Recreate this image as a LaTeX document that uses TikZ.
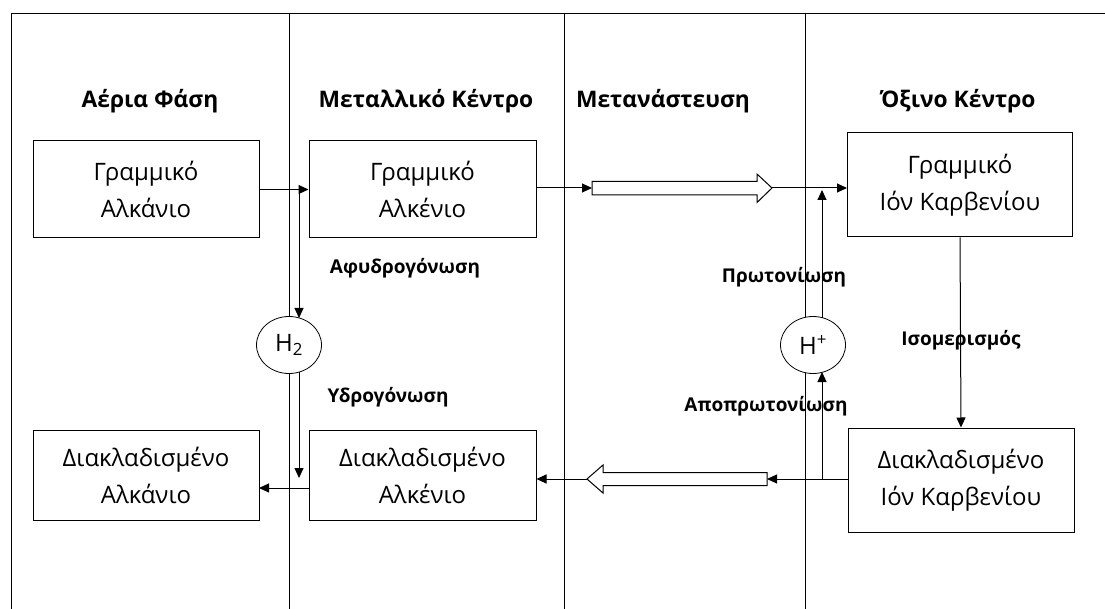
\documentclass[tikz,border=0pt]{standalone}
\usepackage{fontspec}
\setmainfont{Open Sans}
\usetikzlibrary{arrows.meta,shapes.geometric}
\tikzset{
  box/.style={draw, line width=1pt, align=center, font=\fontsize{24}{37}\selectfont, inner sep=0pt},
  hdr/.style={font=\bfseries\fontsize{22.8}{25}\selectfont},
  lbl/.style={font=\bfseries\fontsize{19}{22}\selectfont},
  ion/.style={draw, ellipse, fill=white, line width=0.8pt, minimum width=65pt, minimum height=57pt, inner sep=0pt, font=\fontsize{24}{26}\selectfont},
  frame/.style={line width=0.9pt},
  arr/.style={line width=1pt, -{Triangle[length=10pt,width=9pt]}},
  hollow/.style={draw, line width=1pt, fill=white}
}
\begin{document}
\begin{tikzpicture}[x=1pt,y=-1pt]
\useasboundingbox (0,0) rectangle (1105,609);
% frame
\draw[frame] (11,609) -- (11,13) -- (1105,13);
\draw[frame] (289,13) -- (289,609);
\draw[frame] (564,13) -- (564,609);
\draw[frame] (805,13) -- (805,609);
% headers
\node[hdr] (h1) at (150,101) {Αέρια Φάση};
\node[hdr] (h2) at (426,101) {Μεταλλικό Κέντρο};
\node[hdr] (h3) at (663,101) {Μετανάστευση};
\node[hdr] (h4) at (958,101) {Όξινο Κέντρο};
% boxes
\node[box, minimum width=226pt, minimum height=97pt] (b1) at (146,189.5) {Γραμμικό\\Αλκάνιο};
\node[box, minimum width=227pt, minimum height=97pt] (b2) at (422.5,189.5) {Γραμμικό\\Αλκένιο};
\node[box, minimum width=225pt, minimum height=104pt] (b3) at (960,185) {Γραμμικό\\Ιόν Καρβενίου};
\node[box, minimum width=226pt, minimum height=90pt] (b4) at (146,475) {Διακλαδισμένο\\Αλκάνιο};
\node[box, minimum width=227pt, minimum height=90pt] (b5) at (422.5,475) {Διακλαδισμένο\\Αλκένιο};
\node[box, minimum width=226pt, minimum height=104pt] (b6) at (961,480) {Διακλαδισμένο\\Ιόν Καρβενίου};
% ions
\node[ion] (hh) at (289,345) {H\textsubscript{2}};
\node[ion] (hp) at (813,345) {H\textsuperscript{+}};
% labels
\node[lbl] (l1) at (405,268) {Αφυδρογόνωση};
\node[lbl] (l2) at (388,397) {Υδρογόνωση};
\node[lbl] (l3) at (784,277) {Πρωτονίωση};
\node[lbl] (l4) at (766,406) {Αποπρωτονίωση};
\node[lbl] (l5) at (961,340) {Ισομερισμός};
% coordinates
\coordinate (t1) at (299,189.5);
\coordinate (hhT) at (299,318);
\coordinate (hhB) at (299,372);
\coordinate (d1) at (299,478);
\coordinate (bl) at (259,488);
\coordinate (br) at (309,488);
\coordinate (ha1s) at (592,188);
\coordinate (ha1e) at (772,188);
\coordinate (r1) at (822,479);
\coordinate (hpB) at (822,372);
\coordinate (hpT) at (822,318);
\coordinate (r2) at (822,190);
\coordinate (ha2s) at (767,479);
\coordinate (ha2e) at (587,479);
% connectors left
\draw[arr] (b1.east) -- (b2.west);
\draw[arr] (t1) -- (hhT);
\draw[arr] (hhB) -- (d1);
\draw[arr] (br) -- (bl);
% top hollow arrow
\draw[arr] (b2.east |- ha1s) -- (ha1s);
\draw[hollow] (ha1s) ++(0,-6.5) -- ++(165,0) -- ++(0,-7.5) -- (ha1e) -- ++(-15,14.5) -- ++(0,-7.5) -- ++(-165,0) -- cycle;
\draw[arr] (ha1e) -- (b3.west |- ha1e);
% right vertical
\draw[arr] (r1) -- (hpB);
\draw[arr] (hpT) -- (r2);
% bottom hollow arrow
\draw[arr] (b6.west |- ha2s) -- (ha2s);
\draw[hollow] (ha2s) ++(0,-6.5) -- ++(-164,0) -- ++(0,-7.5) -- (ha2e) -- ++(16,14) -- ++(0,-7.5) -- ++(164,0) -- cycle;
\draw[arr] (ha2e) -- (b5.east |- ha2e);
% isomerism
\draw[arr] (b3.south) -- (b6.north);
\end{tikzpicture}
\end{document}
